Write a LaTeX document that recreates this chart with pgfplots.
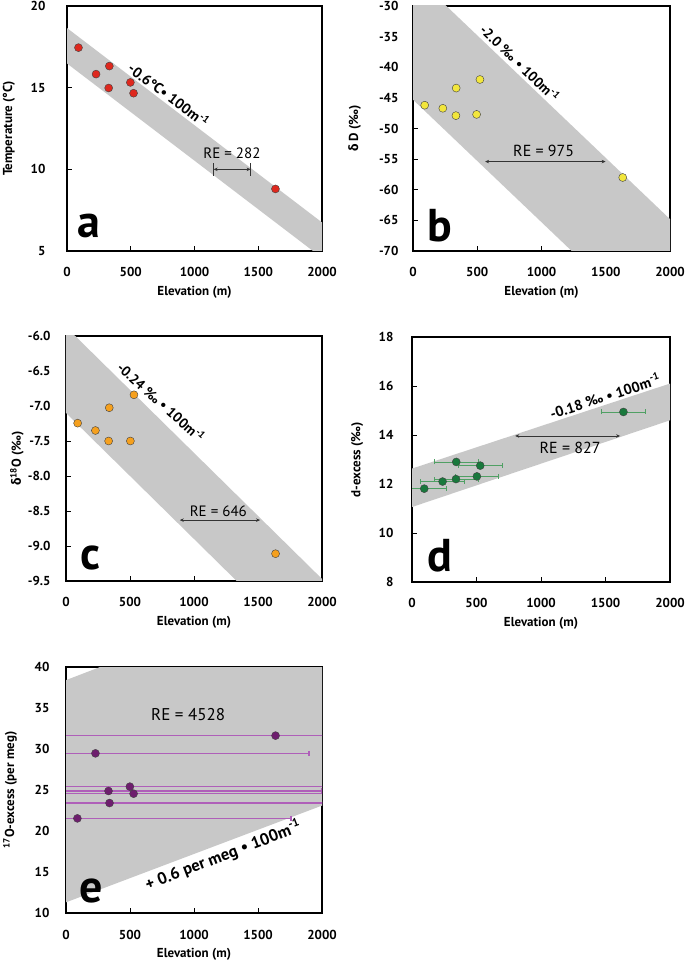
\documentclass[border=0pt]{standalone}
\usepackage{fontspec}
\setmainfont{PT Sans}
\newfontfamily\gk{Fira Sans}
\usepackage{pgfplots}
\pgfplotsset{compat=1.18}
\usetikzlibrary{arrows.meta}

\definecolor{ptRed}{RGB}{222,40,30}
\definecolor{ptYellow}{RGB}{242,230,60}
\definecolor{ptOrange}{RGB}{245,160,30}
\definecolor{ptGreen}{RGB}{25,120,60}
\definecolor{ptPurple}{RGB}{110,30,110}
\definecolor{barGreen}{RGB}{80,160,100}
\definecolor{barPurple}{RGB}{175,95,185}
\definecolor{band}{RGB}{200,200,200}

\pgfplotsset{
  panel/.style={
    scale only axis, anchor=south west,
    width=255pt, height=245pt,
    xmin=0, xmax=2000,
    xtick={0,500,1000,1500,2000},
    xticklabels={0,500,1000,1500,2000},
    tick align=inside, tick pos=left, major tick length=5pt,
    axis line style={line width=1.2pt},
    every tick/.style={black, line width=0.9pt},
    font=\fontsize{13}{15}\selectfont\bfseries,
    xticklabel style={anchor=base, yshift=-26pt},
    xlabel={Elevation (m)},
    xlabel style={at={(axis description cs:0.5,-0.18)}, anchor=base},
  },
  pts/.style={only marks, mark=*, mark size=4pt,
    mark options={draw=black!75, line width=0.4pt, fill=#1}},
  bandfill/.style={fill=band, draw=none},
}
\tikzset{
  re/.style={draw=black!80, line width=0.6pt, {Stealth[length=4pt,width=3.5pt]}-{Stealth[length=4pt,width=3.5pt]}},
  slope/.style={font=\fontsize{#1}{#1}\selectfont\bfseries, inner sep=0pt},
  slope/.default=14,
  retext/.style={font=\fontsize{#1}{#1}\selectfont, inner sep=0pt},
  retext/.default=15,
  letter/.style={font=\fontsize{46}{46}\selectfont\bfseries, anchor=base west, inner sep=0pt},
}

\begin{document}
\begin{tikzpicture}
\path[use as bounding box] (0pt,0pt) rectangle (685pt,962pt);

% ---- a : temperature
\begin{axis}[panel, at={(67pt,711pt)},
  ymin=5, ymax=20, ytick={5,10,15,20}, yticklabels={5,10,15,20},
  yticklabel style={anchor=east, xshift=-18pt},
  ylabel={Temperature (°C)},
  ylabel style={at={(axis description cs:-0.215,0.5)}, anchor=base},
]
\addplot[bandfill] coordinates {(0,18.65) (2000,6.75) (2000,4.58) (0,16.48)} -- cycle;
\addplot[pts=ptRed] coordinates {
  (90,17.45) (228,15.83) (332,16.32) (327,14.98) (497,15.32) (522,14.66) (1635,8.8)};
\draw[re] (axis cs:1150,10) -- (axis cs:1440,10);
\draw[black!80, line width=0.6pt] (axis cs:1150,9.62) -- (axis cs:1150,10.38);
\draw[black!80, line width=0.6pt] (axis cs:1440,9.62) -- (axis cs:1440,10.38);
\node[retext] at (axis cs:1294,10.96) {RE = 282};
\node[slope=14.5, rotate=-37] at (axis cs:800,14.55) {-0.6°C• 100m\textsuperscript{-1}};
\node[letter] at (axis cs:78,5.8) {a};
\end{axis}

% ---- b : delta D
\begin{axis}[panel, at={(413pt,711pt)}, width=257pt,
  ymin=-70, ymax=-30, ytick={-70,-65,...,-30},
  yticklabels={-70,-65,-60,-55,-50,-45,-40,-35,-30},
  yticklabel style={anchor=east, xshift=-11pt},
  ylabel={{\gk δ} D (‰)},
  ylabel style={at={(axis description cs:-0.214,0.5)}, anchor=base},
]
\addplot[bandfill] coordinates {(0,-24.8) (2000,-64.8) (2000,-85.3) (0,-45.3)} -- cycle;
\addplot[pts=ptYellow] coordinates {
  (91,-46.2) (232,-46.7) (336,-43.4) (334,-47.9) (521,-42.0) (495,-47.7) (1632,-58.0)};
\draw[re] (axis cs:561,-55.4) -- (axis cs:1499,-55.4);
\node[retext=16] at (axis cs:1017,-53.6) {RE = 975};
\node[slope=14, rotate=-44] at (axis cs:834,-39.3) {-2.0 ‰ • 100m\textsuperscript{-1}};
\node[letter] at (axis cs:109,-68.4) {b};
\end{axis}

% ---- c : delta 18O
\begin{axis}[panel, at={(66pt,381pt)}, width=256pt,
  ymin=-9.5, ymax=-6.0, ytick={-9.5,-9,...,-6},
  yticklabels={-9.5,-9.0,-8.5,-8.0,-7.5,-7.0,-6.5,-6.0},
  yticklabel style={anchor=east, xshift=-12pt},
  ylabel={{\gk δ}\textsuperscript{18}O (‰)},
  ylabel style={at={(axis description cs:-0.176,0.5)}, anchor=base},
]
\addplot[bandfill] coordinates {(0,-5.87) (2000,-9.47) (2000,-10.7) (0,-7.1)} -- cycle;
\addplot[pts=ptOrange] coordinates {
  (91,-7.245) (230,-7.35) (338,-7.025) (333,-7.50) (531,-6.84) (503,-7.50) (1637,-9.11)};
\draw[re] (axis cs:889,-8.63) -- (axis cs:1516,-8.63);
\node[retext=15] at (axis cs:1190,-8.50) {RE = 646};
\node[slope=14, rotate=-42] at (axis cs:745,-6.94) {-0.24 ‰ • 100m\textsuperscript{-1}};
\node[letter] at (axis cs:109,-9.33) {c};
\end{axis}

% ---- d : d-excess
\begin{axis}[panel, at={(412pt,380pt)}, width=258pt,
  ymin=8, ymax=18, ytick={8,10,...,18}, yticklabels={8,10,12,14,16,18},
  yticklabel style={anchor=east, xshift=-15pt},
  ylabel={d-excess (‰)},
  ylabel style={at={(axis description cs:-0.2,0.5)}, anchor=base},
]
\addplot[bandfill] coordinates {(0,12.63) (2000,16.1) (2000,14.6) (0,11.06)} -- cycle;
\addplot[only marks, mark=none,
  error bars/.cd, x dir=both, x explicit,
  error bar style={barGreen, line width=0.8pt},
  error mark options={barGreen, line width=0.8pt, rotate=90, mark size=2.5pt}]
  coordinates {
  (95,11.81) +- (170,0)
  (237,12.1) +- (170,0)
  (343,12.9) +- (170,0)
  (341,12.2) +- (170,0)
  (503,12.31) +- (170,0)
  (529,12.75) +- (170,0)
  (1639,14.94) +- (170,0)};
\addplot[pts=ptGreen] coordinates {
  (95,11.81) (237,12.1) (343,12.9) (341,12.2) (503,12.31) (529,12.75) (1639,14.94)};
\draw[re] (axis cs:800,13.96) -- (axis cs:1613,13.96);
\node[retext=16] at (axis cs:1226,13.48) {RE = 827};
\node[slope=14.5, rotate=18] at (axis cs:1496,15.6) {-0.18 ‰ • 100m\textsuperscript{-1}};
\node[letter] at (axis cs:116,8.41) {d};
\end{axis}

% ---- e : 17O-excess
\begin{axis}[panel, at={(66pt,49pt)}, width=256pt, height=246pt,
  ymin=10, ymax=40, ytick={10,15,...,40}, yticklabels={10,15,20,25,30,35,40},
  yticklabel style={anchor=east, xshift=-13pt},
  ylabel={\textsuperscript{17}O-excess (per meg)},
  ylabel style={at={(axis description cs:-0.203,0.5)}, anchor=base},
]
\addplot[bandfill] coordinates {(0,38.4) (2000,50.4) (2000,23.1) (0,11.3)} -- cycle;
\addplot[only marks, mark=none,
  error bars/.cd, x dir=both, x explicit,
  error bar style={barPurple, line width=1.3pt},
  error mark options={barPurple, line width=1.3pt, rotate=90, mark size=2.5pt}]
  coordinates {
  (89,21.54) +- (1668,0)
  (230,29.47) +- (1668,0)
  (332,24.88) +- (1668,0)
  (340,23.41) +- (1668,0)
  (499,25.41) +- (1668,0)
  (528,24.55) +- (1668,0)
  (1637,31.63) +- (1668,0)};
\addplot[pts=ptPurple] coordinates {
  (89,21.54) (230,29.47) (332,24.88) (340,23.41) (499,25.41) (528,24.55) (1637,31.63)};
\node[retext=17] at (axis cs:954,34.19) {RE = 4528};
\node[slope=16.5, rotate=21] at (axis cs:1229,17.03) {+ 0.6 per meg • 100m\textsuperscript{-1}};
\node[letter] at (axis cs:102,11.34) {e};
\end{axis}
\end{tikzpicture}
\end{document}
